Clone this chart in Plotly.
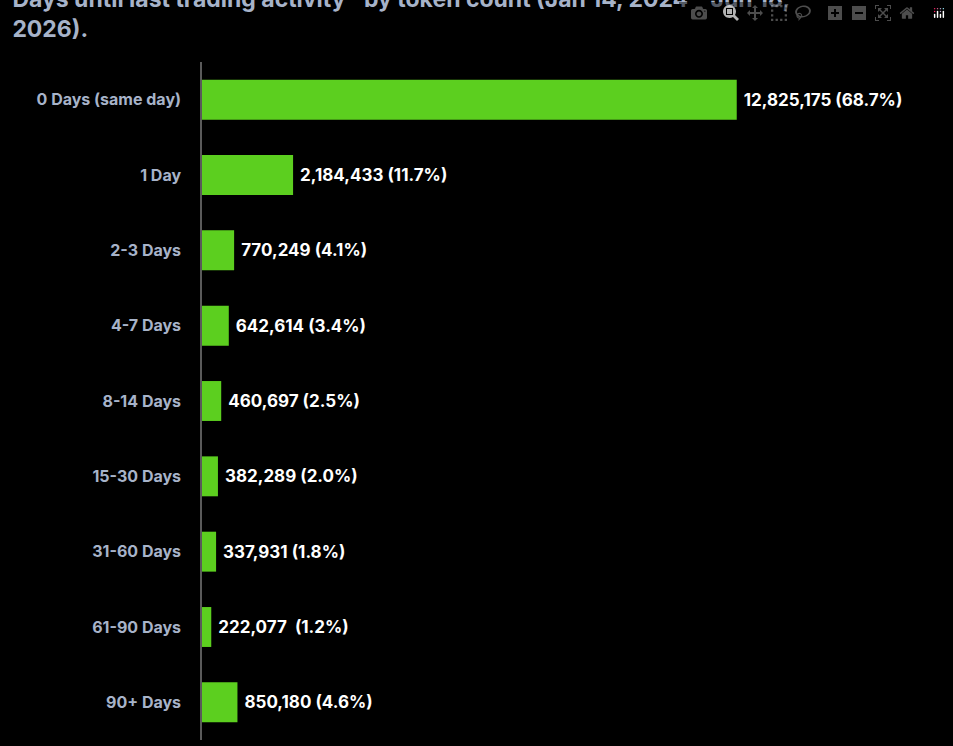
import plotly.graph_objects as go

categories = ["0 Days (same day)", "1 Day", "2-3 Days", "4-7 Days", "8-14 Days",
              "15-30 Days", "31-60 Days", "61-90 Days", "90+ Days"]
counts = [12825175, 2184433, 770249, 642614, 460697, 382289, 337931, 222077, 850180]
labels = [" 12,825,175 (68.7%)", " 2,184,433 (11.7%)", " 770,249 (4.1%)", " 642,614 (3.4%)",
          " 460,697 (2.5%)", " 382,289 (2.0%)", " 337,931 (1.8%)", " 222,077  (1.2%)",
          " 850,180 (4.6%)"]

fig = go.Figure(go.Bar(
    x=counts, y=categories, orientation="h",
    marker_color="#5ccf1f", marker_line_width=0,
    text=labels, textposition="outside", cliponaxis=False,
    textfont=dict(color="#ffffff", size=17, family="Inter", weight="bold"),
))

fig.update_layout(
    width=953, height=746,
    paper_bgcolor="#000000", plot_bgcolor="#000000",
    margin=dict(l=202, r=13, t=62, b=6),
    bargap=0.47,
    showlegend=False,
    title=dict(
        text="<b>Days until last trading activity* by token count (Jan 14, 2024 – Jun 18,<br>2026).</b>",
        x=0.013, xanchor="left", y=0.99, yanchor="top",
        font=dict(family="Inter", size=23, color="#a7b3c9"),
    ),
)
fig.update_xaxes(range=[0, 17.7e6], visible=False)
fig.update_yaxes(
    autorange="reversed", showgrid=False, showline=True, linecolor="#5a5a5a",
    linewidth=1.5, ticks="", ticklabelstandoff=16,
    tickfont=dict(family="Inter", size=16, color="#a7b3c9", weight="bold"),
)

fig.write_html("out.html",
               post_script="document.body.style.margin='0';document.body.style.overflow='hidden';window.scrollTo(0,0);")
